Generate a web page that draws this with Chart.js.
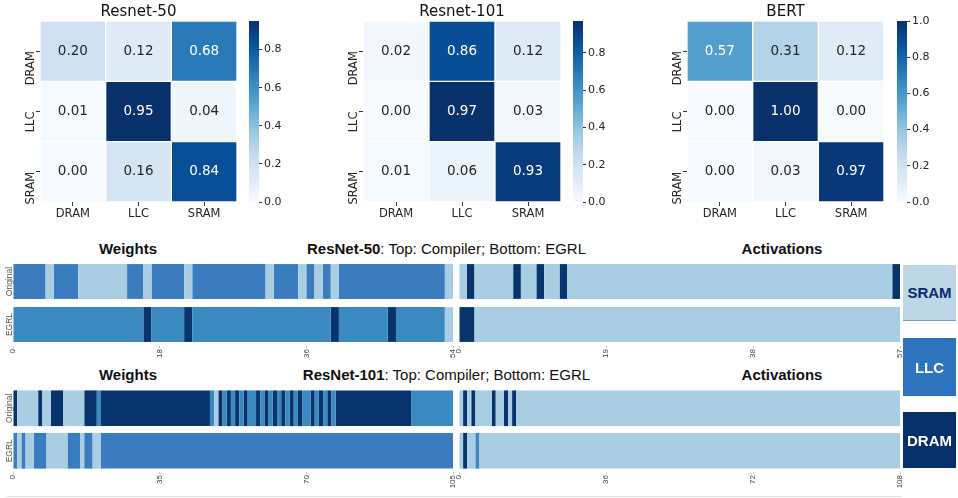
<!DOCTYPE html>
<html>
<head>
<meta charset="utf-8">
<script src="https://cdn.jsdelivr.net/npm/chart.js@4.4.0/dist/chart.umd.min.js"></script>
<style>
  html, body { margin: 0; padding: 0; background: #fff; }
  #page { position: relative; width: 958px; height: 498px; overflow: hidden; font-family: "Liberation Sans", Arial, sans-serif; }
  .box { position: absolute; }
  .ttl { position: absolute; font-size: 15px; line-height: 18px; color: #111; white-space: nowrap; text-align: center; }
  .lg { position: absolute; left: 903px; width: 53px; display: flex; align-items: center; justify-content: center; font-weight: bold; font-size: 15px; }
</style>
</head>
<body>
<div id="page">
  <div class="box" style="left:0px;top:0px;width:237px;height:225px"><canvas id="hm50"></canvas></div>
  <div class="box" style="left:249px;top:0px;width:40px;height:225px"><canvas id="cb50"></canvas></div>
  <div class="box" style="left:323px;top:0px;width:238px;height:225px"><canvas id="hm101"></canvas></div>
  <div class="box" style="left:573px;top:0px;width:40px;height:225px"><canvas id="cb101"></canvas></div>
  <div class="box" style="left:647px;top:0px;width:237px;height:225px"><canvas id="hmBert"></canvas></div>
  <div class="box" style="left:897px;top:0px;width:40px;height:225px"><canvas id="cbBert"></canvas></div>

  <div class="box" style="left:0px;top:260px;width:458px;height:106px"><canvas id="s50w"></canvas></div>
  <div class="box" style="left:454px;top:260px;width:451px;height:106px"><canvas id="s50a"></canvas></div>
  <div class="box" style="left:0px;top:387px;width:458px;height:105px"><canvas id="s101w"></canvas></div>
  <div class="box" style="left:454px;top:387px;width:451px;height:105px"><canvas id="s101a"></canvas></div>

  <div class="ttl" style="left:68px;top:240px;width:120px"><b>Weights</b></div>
  <div class="ttl" style="left:0px;top:240px;width:893px"><b>ResNet-50</b>: Top: Compiler; Bottom: EGRL</div>
  <div class="ttl" style="left:682px;top:240px;width:200px"><b>Activations</b></div>
  <div class="ttl" style="left:68px;top:366px;width:120px"><b>Weights</b></div>
  <div class="ttl" style="left:0px;top:366px;width:893px"><b>ResNet-101</b>: Top: Compiler; Bottom: EGRL</div>
  <div class="ttl" style="left:682px;top:366px;width:200px"><b>Activations</b></div>

  <div class="lg" style="top:265px;height:55px;background:#bdd7e7;color:#0b2a6e;border-bottom:1px solid #6d9fd3">SRAM</div>
  <div class="lg" style="top:338px;height:58px;background:#2d73bd;color:#fff">LLC</div>
  <div class="lg" style="top:412px;height:56px;background:#08306b;color:#fff">DRAM</div>
  <div style="position:absolute;left:7px;top:496px;width:895px;height:1px;background:#dedede"></div>
</div>

<script>
"use strict";

// heatmap rows/cols (rows top to bottom)
const MEMS = ["DRAM", "LLC", "SRAM"];
const resnet50Matrix = [
    [0.20, 0.12, 0.68],
    [0.01, 0.95, 0.04],
    [0.00, 0.16, 0.84],
];
const resnet101Matrix = [
    [0.02, 0.86, 0.12],
    [0.00, 0.97, 0.03],
    [0.01, 0.06, 0.93],
];
const bertMatrix = [
    [0.57, 0.31, 0.12],
    [0.00, 1.00, 0.00],
    [0.00, 0.03, 0.97],
];
const colorbarTicks = [0, 0.2, 0.4, 0.6, 0.8, 1.0];

// placement strips, runs of [memory, number of layers]
const rowNames = ["Original", "EGRL"];
const r50WeightsOriginal = [["LLC", 4], ["SRAM", 1], ["LLC", 3], ["SRAM", 6], ["LLC", 2], ["SRAM", 1], ["LLC", 4], ["SRAM", 1], ["LLC", 9], ["SRAM", 1], ["LLC", 3], ["SRAM", 1], ["LLC", 1], ["SRAM", 1], ["LLC", 1], ["SRAM", 1], ["LLC", 13], ["SRAM", 1]];
const r50WeightsEgrl = [["LLC", 16], ["DRAM", 1], ["LLC", 4], ["DRAM", 1], ["LLC", 17], ["DRAM", 1], ["LLC", 6], ["DRAM", 1], ["LLC", 6], ["SRAM", 1]];
const r50ActOriginal = [["SRAM", 1], ["DRAM", 1], ["SRAM", 5], ["DRAM", 1], ["SRAM", 2], ["DRAM", 1], ["SRAM", 2], ["DRAM", 1], ["SRAM", 42], ["DRAM", 1]];
const r50ActEgrl = [["DRAM", 2], ["SRAM", 55]];
const r101WeightsOriginal = [["DRAM", 1], ["SRAM", 5], ["DRAM", 1], ["SRAM", 2], ["DRAM", 3], ["SRAM", 5], ["DRAM", 3], ["LLC", 1], ["DRAM", 26], ["LLC", 1], ["SRAM", 1],
    ["DRAM", 1], ["LLC", 1], ["DRAM", 1], ["LLC", 1], ["DRAM", 1], ["LLC", 1], ["DRAM", 1], ["LLC", 2], ["DRAM", 1], ["LLC", 1], ["DRAM", 1], ["LLC", 1], ["DRAM", 1], ["LLC", 1],
    ["DRAM", 1], ["LLC", 1], ["DRAM", 1], ["LLC", 1], ["DRAM", 1], ["LLC", 2], ["DRAM", 1], ["LLC", 1], ["DRAM", 1], ["LLC", 1], ["DRAM", 1], ["LLC", 1], ["DRAM", 18], ["LLC", 10]];
const r101WeightsEgrl = [["LLC", 1], ["SRAM", 1], ["LLC", 1], ["SRAM", 2], ["LLC", 3], ["SRAM", 5], ["LLC", 3], ["SRAM", 1], ["LLC", 2], ["SRAM", 2], ["LLC", 84]];
const r101ActOriginal = [["SRAM", 1], ["DRAM", 1], ["SRAM", 1], ["DRAM", 1], ["SRAM", 4], ["DRAM", 1], ["SRAM", 2], ["DRAM", 1], ["SRAM", 1], ["DRAM", 1], ["SRAM", 94]];
const r101ActEgrl = [["SRAM", 1], ["DRAM", 1], ["SRAM", 2], ["LLC", 1], ["SRAM", 103]];

const r50WeightTicks = [0, 18, 36, 54];
const r50ActTicks = [0, 19, 38, 57];
const r101WeightTicks = [0, 35, 70, 105];
const r101ActTicks = [0, 36, 72, 108];

Chart.defaults.font.family = "'Liberation Sans', Arial, sans-serif";
Chart.defaults.animation = false;

const BLUES = ["#f7fbff", "#deebf7", "#c6dbef", "#9ecae1", "#6baed6", "#4292c6", "#2171b5", "#08519c", "#08306b"];

function blues(t) {
    t = Math.max(0, Math.min(1, t));
    const p = t * 8;
    const i = Math.min(7, Math.floor(p));
    const f = p - i;
    const a = BLUES[i], b = BLUES[i + 1];
    const ch = (s, k) => parseInt(s.substr(1 + 2 * k, 2), 16);
    const c = [0, 1, 2].map((k) => Math.round(ch(a, k) + (ch(b, k) - ch(a, k)) * f));
    return `rgb(${c[0]},${c[1]},${c[2]})`;
}

const cellText = {
    id: "cellText",
    afterDatasetsDraw(chart, args, opts) {
        const ctx = chart.ctx;
        ctx.save();
        ctx.font = "13.5px 'DejaVu Sans'";
        ctx.textAlign = "center";
        ctx.textBaseline = "middle";
        chart.data.datasets.forEach((ds, di) => {
            chart.getDatasetMeta(di).data.forEach((bar, ci) => {
                const v = opts.matrix[ds.row][ci];
                ctx.fillStyle = v / opts.vmax > 0.5 ? "#ffffff" : "#262626";
                ctx.fillText(v.toFixed(2), bar.x, (bar.y + bar.base) / 2);
            });
        });
        ctx.restore();
    },
};

function heatmap(id, title, matrix) {
    const vmax = Math.max(...matrix.flat());
    // bottom row first so the stack grows upward
    const datasets = [2, 1, 0].map((r) => ({
        row: r,
        data: [1, 1, 1],
        backgroundColor: matrix[r].map((v) => blues(v / vmax)),
        borderColor: "rgba(255,255,255,0.35)",
        borderWidth: 1,
        borderSkipped: false,
        categoryPercentage: 1,
        barPercentage: 1,
    }));
    new Chart(document.getElementById(id), {
        type: "bar",
        data: { labels: MEMS, datasets },
        options: {
            responsive: true,
            maintainAspectRatio: false,
            layout: { padding: 0 },
            plugins: {
                legend: { display: false },
                tooltip: { enabled: false },
                title: {
                    display: true,
                    text: title,
                    fullSize: false,
                    font: { family: "'DejaVu Sans'", size: 15, weight: "normal" },
                    color: "#111",
                    padding: { top: 3, bottom: 0 },
                },
                cellText: { matrix, vmax },
            },
            scales: {
                x: {
                    stacked: true,
                    ticks: { font: { family: "'DejaVu Sans'", size: 11.5 }, color: "#262626", padding: 1, autoSkip: false, maxRotation: 0 },
                    grid: { drawOnChartArea: false, offset: false, tickLength: 4, color: "#333" },
                    border: { display: false },
                    afterFit: (s) => { s.height = 23; s.paddingLeft = 0; s.paddingRight = 0; },
                },
                y: {
                    stacked: true,
                    min: 0,
                    max: 3,
                    afterBuildTicks: (s) => { s.ticks = [0.5, 1.5, 2.5].map((v) => ({ value: v })); },
                    ticks: {
                        callback: (v) => MEMS[2 - Math.floor(v)],
                        minRotation: 90,
                        maxRotation: 90,
                        padding: 5,
                        font: { family: "'DejaVu Sans'", size: 11.5 },
                        color: "#262626",
                    },
                    grid: { drawOnChartArea: false, tickLength: 4, color: "#333" },
                    border: { display: false },
                    afterFit: (s) => { s.width = 40; s.paddingTop = 0; s.paddingBottom = 0; },
                },
            },
        },
        plugins: [cellText],
    });
    colorbar("cb" + id.slice(2), vmax);
}

function colorbar(id, vmax) {
    new Chart(document.getElementById(id), {
        type: "bar",
        data: {
            labels: [""],
            datasets: [{
                data: [vmax],
                categoryPercentage: 1,
                barPercentage: 1,
                borderWidth: 0,
                backgroundColor: (c) => {
                    const a = c.chart.chartArea;
                    if (!a) return BLUES[4];
                    const g = c.chart.ctx.createLinearGradient(0, a.bottom, 0, a.top);
                    BLUES.forEach((col, i) => g.addColorStop(i / 8, col));
                    return g;
                },
            }],
        },
        options: {
            responsive: true,
            maintainAspectRatio: false,
            layout: { padding: { top: 21, bottom: 23, left: 0, right: 0 } },
            plugins: { legend: { display: false }, tooltip: { enabled: false } },
            scales: {
                x: { display: false },
                y: {
                    position: "right",
                    min: 0,
                    max: vmax,
                    afterBuildTicks: (s) => { s.ticks = colorbarTicks.filter((v) => v <= vmax + 1e-9).map((v) => ({ value: v })); },
                    ticks: { callback: (v) => v.toFixed(1), padding: 2, font: { family: "'DejaVu Sans'", size: 11 }, color: "#262626" },
                    grid: { drawOnChartArea: false, tickLength: 3, color: "#333" },
                    border: { display: false },
                    afterFit: (s) => { s.width = 30; s.paddingTop = 0; s.paddingBottom = 0; },
                },
            },
        },
    });
}

const SRAM_COLOR = "#a9cde3";
const LLC_COLOR = "#3b7cbf";
const LLC_COLOR_WITH_DRAM = "#3a89c1";
const DRAM_COLOR = "#08346e";

function toBars(runs, row) {
    const out = { SRAM: [], LLC: [], DRAM: [] };
    let pos = 0;
    runs.forEach(([mem, len]) => {
        out[mem].push({ x: [pos, pos + len], y: row });
        pos += len;
    });
    return out;
}

const rowLabels = {
    id: "rowLabels",
    afterDraw(chart, args, opts) {
        if (!opts.show) return;
        const ctx = chart.ctx;
        const yScale = chart.scales.y;
        ctx.save();
        ctx.font = "8.5px 'Liberation Sans'";
        ctx.fillStyle = "#555";
        ctx.textAlign = "center";
        ctx.textBaseline = "middle";
        rowNames.forEach((name, i) => {
            ctx.save();
            ctx.translate(9.5, yScale.getPixelForValue(i));
            ctx.rotate(-Math.PI / 2);
            ctx.fillText(name, 0, 0);
            ctx.restore();
        });
        ctx.restore();
    },
};

function strip(id, original, egrl, tickVals, barPct, showRows) {
    const total = tickVals[tickVals.length - 1];
    const top = toBars(original, rowNames[0]);
    const bottom = toBars(egrl, rowNames[1]);
    const hasDram = {
        Original: original.some((r) => r[0] === "DRAM"),
        EGRL: egrl.some((r) => r[0] === "DRAM"),
    };
    const datasets = ["SRAM", "LLC", "DRAM"].map((mem) => ({
        label: mem,
        data: top[mem].concat(bottom[mem]),
        grouped: false,
        categoryPercentage: 1,
        barPercentage: barPct,
        borderWidth: 0,
        backgroundColor: (c) => {
            if (mem === "SRAM") return SRAM_COLOR;
            if (mem === "DRAM") return DRAM_COLOR;
            const row = c.raw && c.raw.y;
            return hasDram[row] ? LLC_COLOR_WITH_DRAM : LLC_COLOR;
        },
    }));
    new Chart(document.getElementById(id), {
        type: "bar",
        data: { labels: rowNames, datasets },
        options: {
            indexAxis: "y",
            responsive: true,
            maintainAspectRatio: false,
            layout: { padding: { left: showRows ? 13 : 5, right: 5, top: 0, bottom: 0 } },
            plugins: { legend: { display: false }, tooltip: { enabled: false }, rowLabels: { show: showRows } },
            scales: {
                x: {
                    type: "linear",
                    min: 0,
                    max: total,
                    afterBuildTicks: (s) => { s.ticks = tickVals.map((v) => ({ value: v })); },
                    ticks: { minRotation: 90, maxRotation: 90, padding: 1, autoSkip: false, font: { size: 8 }, color: "#444" },
                    grid: { drawOnChartArea: false, tickLength: 2, color: "#c8c8c8" },
                    border: { display: false },
                    afterFit: (s) => { s.height = 20; s.paddingLeft = 0; s.paddingRight = 0; },
                },
                y: { type: "category", display: false },
            },
        },
        plugins: [rowLabels],
    });
}

heatmap("hm50", "Resnet-50", resnet50Matrix);
heatmap("hm101", "Resnet-101", resnet101Matrix);
heatmap("hmBert", "BERT", bertMatrix);

strip("s50w", r50WeightsOriginal, r50WeightsEgrl, r50WeightTicks, 0.81, true);
strip("s50a", r50ActOriginal, r50ActEgrl, r50ActTicks, 0.81, false);
strip("s101w", r101WeightsOriginal, r101WeightsEgrl, r101WeightTicks, 0.84, true);
strip("s101a", r101ActOriginal, r101ActEgrl, r101ActTicks, 0.84, false);
</script>
</body>
</html>
